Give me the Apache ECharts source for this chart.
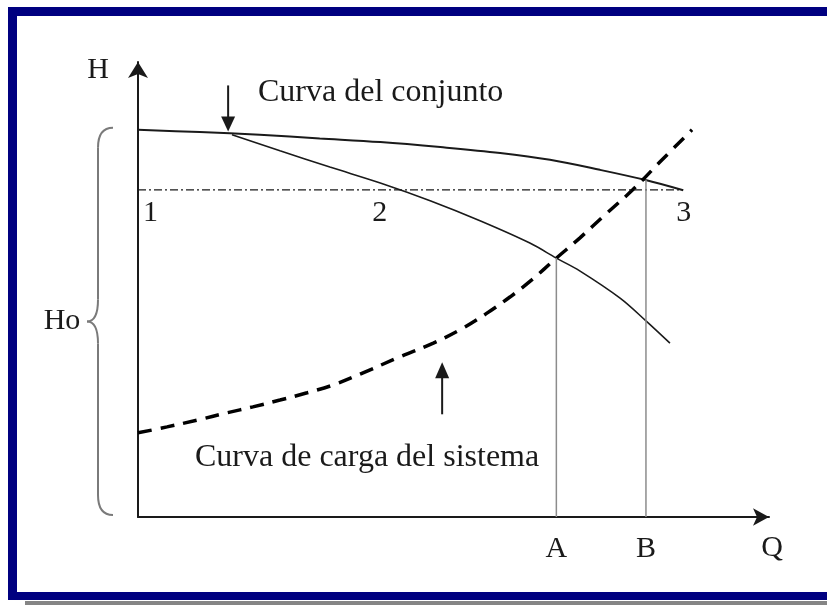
<!DOCTYPE html>
<html lang="es">
<head>
  <meta charset="UTF-8">
  <title>Curva del conjunto y curva de carga del sistema</title>
  <script src="https://cdn.jsdelivr.net/npm/echarts@6/dist/echarts.min.js"></script>
  <style>
    html, body { margin: 0; padding: 0; background: #fff; }
    #chart { width: 827px; height: 605px; }
  </style>
</head>
<body>
  <div id="chart"></div>
  <script>
    // curva del conjunto (Q, H)
    const conjuntoQ = [0, 0.98, 1.93, 2.88, 3.84, 4.79, 5.74, 6.53, 7.32, 8.03, 8.64];
    const conjuntoH = [8.51, 8.46, 8.4, 8.32, 8.24, 8.13, 8.0, 7.85, 7.63, 7.41, 7.18];
    // curva de una sola bomba
    const bombaQ = [1.49, 2.25, 3.04, 3.84, 4.63, 5.42, 6.21, 6.63, 7.0, 7.64, 8.05, 8.43];
    const bombaH = [8.4, 8.05, 7.69, 7.34, 6.95, 6.51, 6.02, 5.69, 5.41, 4.81, 4.31, 3.82];
    // curva de carga del sistema
    const sistemaQ = [0, 0.46, 0.94, 1.41, 1.82, 2.25, 2.68, 3.09, 3.52, 4.15, 4.68, 5.15, 5.53, 5.9, 6.24, 6.63, 7.0, 7.4, 7.84, 8.27, 8.78];
    const sistemaH = [1.85, 1.98, 2.13, 2.29, 2.42, 2.57, 2.73, 2.9, 3.14, 3.52, 3.82, 4.15, 4.48, 4.84, 5.21, 5.69, 6.13, 6.64, 7.19, 7.8, 8.51];
    // linea de referencia 1-2-3
    const refH = 7.19;
    const refQ = [0, 8.64];
    const puntosRef = [['1', 0.2], ['2', 3.83], ['3', 8.65]];
    // union de las curvas y puntos de funcionamiento
    const union = [1.46, 8.43];
    const opA = [6.63, 5.69];
    const opB = [8.05, 7.41];

    const font = "'Liberation Serif', 'Times New Roman', serif";
    const ink = '#1a1a1a';
    const zip = (xs, ys) => xs.map((x, i) => [x, ys[i]]);

    const chart = echarts.init(document.getElementById('chart'));

    chart.setOption({
      animation: false,
      grid: { left: 138, right: 58, top: 62, bottom: 88 },
      xAxis: {
        type: 'value', min: 0, max: 10,
        axisLine: { show: true, symbol: ['none', 'arrow'], symbolSize: [13, 16], lineStyle: { color: ink, width: 2 } },
        axisTick: { show: false },
        splitLine: { show: false },
        axisLabel: {
          customValues: [opA[0], opB[0]],
          formatter: v => (v === opA[0] ? 'A' : 'B'),
          margin: 17, fontFamily: font, fontSize: 30, color: ink
        }
      },
      yAxis: {
        type: 'value', min: 0, max: 10,
        axisLine: { show: true, symbol: ['none', 'arrow'], symbolSize: [15, 16], lineStyle: { color: ink, width: 2 } },
        axisTick: { show: false },
        axisLabel: { show: false },
        splitLine: { show: false }
      },
      series: [
        {
          name: 'Curva del conjunto', type: 'line', smooth: 0.35, showSymbol: false,
          data: zip(conjuntoQ, conjuntoH),
          lineStyle: { color: ink, width: 2 }
        },
        {
          name: 'Bomba', type: 'line', smooth: 0.35, showSymbol: false,
          data: zip(bombaQ, bombaH),
          lineStyle: { color: ink, width: 1.6 }
        },
        {
          name: 'Curva de carga del sistema', type: 'line', smooth: 0.35, showSymbol: false,
          data: zip(sistemaQ, sistemaH),
          lineStyle: { color: '#000', width: 3.5, type: [14, 9] }
        },
        {
          name: 'Referencia', type: 'line', showSymbol: false,
          data: refQ.map(q => [q, refH]),
          lineStyle: { color: ink, width: 1.2, type: [8, 3, 2, 3] }
        },
        {
          name: 'A', type: 'line', showSymbol: false,
          data: [[opA[0], 0], opA],
          lineStyle: { color: '#8c8c8c', width: 1.5 }
        },
        {
          name: 'B', type: 'line', showSymbol: false,
          data: [[opB[0], 0], opB],
          lineStyle: { color: '#8c8c8c', width: 1.5 }
        }
      ]
    });

    const px = p => chart.convertToPixel({ gridIndex: 0 }, p);
    const txt = (text, x, y, align, size) => ({
      type: 'text', x, y, z: 50,
      style: { text, font: (size || 30) + 'px ' + font, fill: ink, align: align || 'center', verticalAlign: 'middle' }
    });
    const curve = (x1, y1, c1x, c1y, c2x, c2y, x2, y2) => ({
      type: 'bezierCurve', z: 40,
      shape: { x1, y1, cpx1: c1x, cpy1: c1y, cpx2: c2x, cpy2: c2y, x2, y2 },
      style: { stroke: '#7a7a7a', lineWidth: 2, fill: null }
    });
    const seg = (x1, y1, x2, y2, color, w) => ({
      type: 'line', z: 40, shape: { x1, y1, x2, y2 }, style: { stroke: color, lineWidth: w }
    });

    const tip1 = px(union);
    const tip2 = px([4.82, 3.4]);
    const braceTop = px([0, conjuntoH[0]])[1] - 2;
    const braceBot = px([0, 0])[1] - 2;
    const mid = (braceTop + braceBot) / 2;
    const bx = 98;

    const graphics = [
      // marco
      { type: 'rect', shape: { x: 8, y: 7, width: 819, height: 9 }, style: { fill: '#000080' } },
      { type: 'rect', shape: { x: 8, y: 7, width: 9, height: 593 }, style: { fill: '#000080' } },
      { type: 'rect', shape: { x: 8, y: 592, width: 819, height: 8 }, style: { fill: '#000080' } },
      { type: 'rect', shape: { x: 25, y: 601, width: 802, height: 4 }, style: { fill: '#858585' } },
      // textos
      txt('H', 98, 70),
      txt('Q', 772, 548),
      txt('Ho', 62, mid),
      txt('Curva del conjunto', 258, 93, 'left', 32),
      txt('Curva de carga del sistema', 195, 458, 'left', 32),
      // llave Ho
      curve(bx + 15, braceTop, bx + 5, braceTop, bx, braceTop + 6, bx, braceTop + 20),
      seg(bx, braceTop + 20, bx, mid - 22, '#7a7a7a', 2),
      curve(bx, mid - 22, bx, mid - 8, bx - 4, mid, bx - 11, mid),
      curve(bx - 11, mid, bx - 4, mid, bx, mid + 8, bx, mid + 22),
      seg(bx, mid + 22, bx, braceBot - 20, '#7a7a7a', 2),
      curve(bx, braceBot - 20, bx, braceBot - 6, bx + 5, braceBot, bx + 15, braceBot),
      // flecha curva del conjunto
      seg(tip1[0] - 2, tip1[1] - 48, tip1[0] - 2, tip1[1] - 14, ink, 2),
      { type: 'polygon', z: 40, shape: { points: [[tip1[0] - 9, tip1[1] - 17], [tip1[0] + 5, tip1[1] - 17], [tip1[0] - 2, tip1[1] - 2]] }, style: { fill: ink } },
      // flecha curva de carga
      seg(tip2[0], tip2[1] + 52, tip2[0], tip2[1] + 14, ink, 2),
      { type: 'polygon', z: 40, shape: { points: [[tip2[0] - 7, tip2[1] + 16], [tip2[0] + 7, tip2[1] + 16], [tip2[0], tip2[1]]] }, style: { fill: ink } }
    ];

    // numeros 1, 2, 3 bajo la linea de referencia
    puntosRef.forEach(([t, q]) => {
      const p = px([q, refH]);
      graphics.push(txt(t, p[0], p[1] + 23));
    });

    chart.setOption({ graphic: graphics });
  </script>
</body>
</html>
